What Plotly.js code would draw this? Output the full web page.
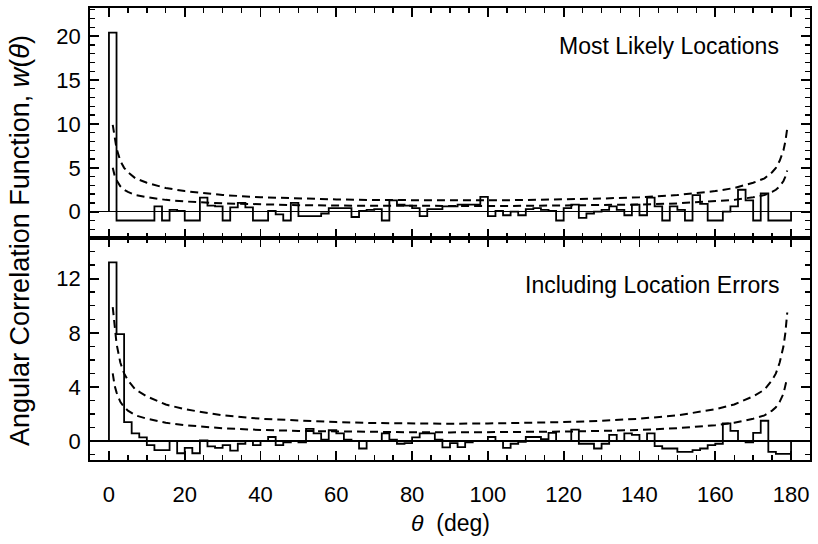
<!DOCTYPE html>
<html>
<head>
<meta charset="utf-8">
<script src="https://cdn.plot.ly/plotly-3.0.1.min.js"></script>
<style>html,body{margin:0;padding:0;background:#fff;}#chart{width:818px;height:544px;}</style>
</head>
<body>
<div id="chart"></div>
<script>
// Left edges of the 2-degree theta bins
const binLeft = [0,2,4,6,8,10,12,14,16,18,20,22,24,26,28,30,32,34,36,38,40,42,44,46,48,50,52,54,56,58,
  60,62,64,66,68,70,72,74,76,78,80,82,84,86,88,90,92,94,96,98,100,102,104,106,108,110,112,114,116,118,
  120,122,124,126,128,130,132,134,136,138,140,142,144,146,148,150,152,154,156,158,160,162,164,166,168,170,172,174,176,178];
const binEnd = 180;

// Top panel: Most Likely Locations
const wMostLikely = [20.4, -1.0, -1.0, -1.0, -1.0, -1.0, 0.6, -1.0, 0.2, 0.1,
  -1.0, -1.0, 1.6, 0.7, 0.6, -1.0, 0.5, 1.0, 0.5, -1.0,
  -1.0, 0.1, -0.3, -1.0, 1.0, -0.5, -0.5, -0.5, -0.2, 0.4,
  0.4, 0.4, -0.6, 0.1, 0.2, 0.3, -1.0, 1.3, 0.8, 0.7,
  0.4, -0.5, 0.3, 0.3, 0.6, 0.6, 0.8, 0.8, 0.8, 1.7,
  -0.5, 0.1, -0.4, 0.0, -0.4, 0.3, 0.4, 0.2, 0.1, -1.0,
  0.4, 0.8, -0.7, -0.2, 0.0, 0.2, 0.6, 0.2, -0.4, 0.8,
  -0.4, 1.6, 0.6, -1.0, 0.6, 0.2, -1.0, 1.9, 0.9, -1.0,
  -1.0, 0.0, 0.6, 2.5, 1.3, -1.0, 2.1, -1.0, -1.0, -1.0];

// Bottom panel: Including Location Errors
const wWithErrors = [13.2, 7.9, 1.4, 0.57, 0.27, -0.3, -0.67, -0.67, 0.0, -0.9,
  -0.5, -0.9, 0.05, -0.4, -0.5, -0.3, -0.7, -0.2, 0.0, -0.3,
  0.0, 0.3, -0.3, -0.1, 0.0, -0.1, 0.9, 0.57, 0.1, 0.8,
  0.57, 0.1, 0.0, -0.55, 0.0, 0.0, 0.57, 0.1, -0.2, -0.15,
  0.27, 0.57, 0.57, 0.1, -0.47, -0.15, -0.45, -0.1, 0.0, 0.0,
  0.3, 0.0, -0.5, -0.2, -0.05, 0.3, 0.3, 0.15, 0.6, 0.0,
  0.0, 0.85, -0.2, -0.2, -0.55, -0.2, 0.45, 0.0, 0.57, 0.45,
  0.0, 0.57, -0.37, -0.55, -0.55, -0.8, -0.8, -0.67, -0.55, -0.3,
  -0.2, 1.3, 0.75, 0.0, -0.1, 0.6, 1.5, -0.8, -0.95, -0.95];

// Dashed envelope curves
const curveTheta = [1, 1.5, 2, 3, 4, 5, 7, 10, 15, 20, 30, 40, 50, 60, 70, 80, 90,
  100, 110, 120, 130, 140, 150, 160, 165, 170, 173, 175, 176, 177, 178, 178.5, 179];
const curveUpper = [9.9, 8.3, 7.2, 5.8, 5.0, 4.5, 3.8, 3.3, 2.7, 2.35, 1.9, 1.65, 1.5, 1.4, 1.33, 1.3, 1.28,
  1.3, 1.33, 1.4, 1.5, 1.65, 1.9, 2.35, 2.7, 3.3, 3.8, 4.5, 5.0, 5.8, 7.0, 8.0, 9.5];
const curveLower = [5.0, 4.1, 3.6, 2.9, 2.5, 2.25, 1.9, 1.65, 1.35, 1.17, 0.95, 0.82, 0.75, 0.7, 0.67, 0.65, 0.64,
  0.65, 0.67, 0.7, 0.75, 0.82, 0.95, 1.17, 1.35, 1.65, 1.9, 2.25, 2.5, 2.9, 3.5, 4.0, 4.7];

const xTickVals = [0, 20, 40, 60, 80, 100, 120, 140, 160, 180];

function stepXY(vals) {
  const x = [binLeft[0]].concat(binLeft, [binEnd, binEnd]);
  const y = [0].concat(vals, [vals[vals.length - 1], 0]);
  return {x, y};
}

const FONT = 'Liberation Sans, Arial, Helvetica, sans-serif';
const histLine = {color: '#000', width: 1.8, shape: 'hv'};
const dashLine = {color: '#000', width: 2, dash: '8px,5px'};

const sTop = stepXY(wMostLikely);
const sBot = stepXY(wWithErrors);

const traces = [
  {x: sTop.x, y: sTop.y, xaxis: 'x2', yaxis: 'y2', mode: 'lines', line: histLine, hoverinfo: 'skip'},
  {x: curveTheta, y: curveUpper, xaxis: 'x2', yaxis: 'y2', mode: 'lines', line: dashLine},
  {x: curveTheta, y: curveLower, xaxis: 'x2', yaxis: 'y2', mode: 'lines', line: dashLine},
  {x: sBot.x, y: sBot.y, xaxis: 'x', yaxis: 'y', mode: 'lines', line: histLine, hoverinfo: 'skip'},
  {x: curveTheta, y: curveUpper, xaxis: 'x', yaxis: 'y', mode: 'lines', line: dashLine},
  {x: curveTheta, y: curveLower, xaxis: 'x', yaxis: 'y', mode: 'lines', line: dashLine}
];

const axCommon = {
  showline: true, linecolor: '#000', linewidth: 1.8, mirror: 'allticks',
  ticks: 'inside', ticklen: 9, tickwidth: 1.8, tickcolor: '#000',
  showgrid: false, zeroline: false,
  tickfont: {family: FONT, size: 22, color: '#000'}
};
const minorX = {dtick: 5, tick0: 0, ticks: 'inside', ticklen: 5, tickwidth: 1.4, tickcolor: '#000'};
const minorY = {dtick: 1, tick0: 0, ticks: 'inside', ticklen: 5, tickwidth: 1.4, tickcolor: '#000'};

const split = 0.491;
const layout = {
  width: 818, height: 544,
  margin: {l: 90, r: 8, t: 8, b: 84},
  paper_bgcolor: '#fff', plot_bgcolor: '#fff',
  showlegend: false,
  font: {family: FONT, color: '#000'},
  xaxis: Object.assign({}, axCommon, {
    domain: [0, 1], anchor: 'y', range: [-5, 185],
    tickvals: xTickVals, ticktext: xTickVals.map(String),
    minor: minorX,
    ticklabelstandoff: 14
  }),
  xaxis2: Object.assign({}, axCommon, {
    domain: [0, 1], anchor: 'y2', matches: 'x', range: [-5, 185],
    tickvals: xTickVals, showticklabels: false,
    minor: minorX
  }),
  yaxis: Object.assign({}, axCommon, {
    domain: [0, split], anchor: 'x', range: [-1.4, 15],
    tick0: 0, dtick: 4,
    minor: minorY,
    zeroline: true, zerolinecolor: '#000', zerolinewidth: 1.4,
    ticklabelstandoff: 3
  }),
  yaxis2: Object.assign({}, axCommon, {
    domain: [split, 1], anchor: 'x2', range: [-3, 23.2],
    tick0: 0, dtick: 5,
    minor: minorY,
    zeroline: true, zerolinecolor: '#000', zerolinewidth: 1.4,
    ticklabelstandoff: 3
  }),
  annotations: [
    {text: 'Most Likely Locations', xref: 'x2', yref: 'y2', x: 177.4, y: 18.9,
     xanchor: 'right', yanchor: 'middle', showarrow: false,
     font: {family: FONT, size: 23, color: '#000'}},
    {text: 'Including Location Errors', xref: 'x', yref: 'y', x: 177.4, y: 11.5,
     xanchor: 'right', yanchor: 'middle', showarrow: false,
     font: {family: FONT, size: 23, color: '#000'}},
    {text: 'Angular Correlation Function, <i>w</i>(<i>θ</i>)', xref: 'paper', yref: 'paper',
     x: -0.097, y: 0.485, xanchor: 'center', yanchor: 'middle', textangle: -90, showarrow: false,
     font: {family: FONT, size: 27, color: '#000'}},
    {text: '<i>θ</i>  (deg)', xref: 'x', yref: 'paper', x: 90, y: -0.139,
     xanchor: 'center', yanchor: 'middle', showarrow: false,
     font: {family: FONT, size: 23, color: '#000'}}
  ]
};

Plotly.newPlot('chart', traces, layout, {displayModeBar: false, staticPlot: true});
</script>
</body>
</html>
